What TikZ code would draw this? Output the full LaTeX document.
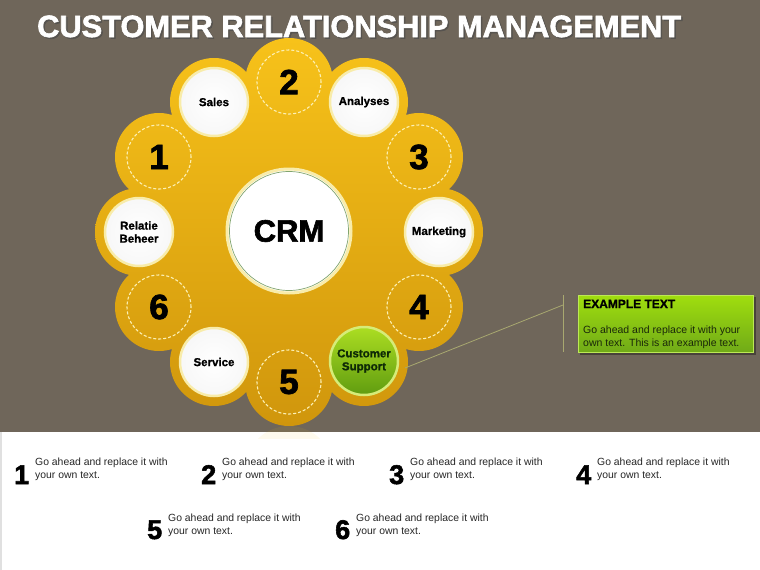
\documentclass[tikz,border=0pt]{standalone}
\usepackage{fontspec}
\setmainfont{Liberation Sans}
\newfontfamily\heavyfont[FakeBold=2]{Liberation Sans Bold}
\newfontfamily\semiheavy[FakeBold=1]{Liberation Sans Bold}
\definecolor{bg}{RGB}{111,102,90}
\definecolor{ytop}{RGB}{247,194,26}
\definecolor{ybot}{RGB}{208,150,12}
\definecolor{paley}{RGB}{248,236,170}
\definecolor{dashc}{RGB}{252,240,180}
\definecolor{crmgreen}{RGB}{130,165,110}
\definecolor{gtop}{RGB}{172,222,34}
\definecolor{gbot}{RGB}{96,156,16}
\definecolor{gborder}{RGB}{214,236,120}
\definecolor{gtext}{RGB}{14,42,6}
\definecolor{btop}{RGB}{160,222,14}
\definecolor{bbot}{RGB}{112,170,24}
\definecolor{linec}{RGB}{168,168,112}
\definecolor{bodyc}{RGB}{26,40,10}
\begin{document}
\begin{tikzpicture}[x=1pt,y=-1pt,
  numc/.style={circle,minimum size=64,inner sep=0,draw=dashc,line width=1.1,
    dash pattern=on 3pt off 2pt,font=\heavyfont\fontsize{35}{35}\selectfont},
  whitec/.style={circle,minimum size=68,inner sep=0,draw=paley,line width=2.5,
    inner color=white,outer color=black!3,align=center,
    font=\semiheavy\fontsize{11.5}{13}\selectfont},
  bignum/.style={anchor=base west,inner sep=0,font=\heavyfont\fontsize{27}{27}\selectfont},
  itemtxt/.style={anchor=north west,inner sep=0,align=left,
    font=\fontsize{10.4}{12.5}\selectfont,text=black!85},
  cline/.style={draw=linec,line width=0.8}]
\useasboundingbox (0,0) rectangle (760,570);
% backgrounds
\fill[bg] (0,0) rectangle (760,432);
\fill[white] (0,432) rectangle (760,570);
\fill[black!12] (0,432) rectangle (2,570);
% reflection
\begin{scope}
  \clip (0,424) rectangle (760,438);
  \fill[ytop,opacity=0.08] (289,470) circle (44);
\end{scope}
% title
\node[anchor=base west,inner sep=0,text=black!70,opacity=0.6,
  font=\heavyfont\fontsize{30.8}{30.8}\selectfont] (titleshadow) at (38.5,38.5)
  {CUSTOMER RELATIONSHIP MANAGEMENT};
\node[anchor=base west,inner sep=0,text=white,
  font=\heavyfont\fontsize{30.8}{30.8}\selectfont] (title) at (37,37)
  {CUSTOMER RELATIONSHIP MANAGEMENT};
% flower
\shade[top color=ytop,bottom color=ybot] (289,232) circle (152)
  (289,82) circle (44) (214,102) circle (44) (364,102) circle (44)
  (159,157) circle (44) (419,157) circle (44) (139,232) circle (44)
  (439,232) circle (44) (159,307) circle (44) (419,307) circle (44)
  (214,362) circle (44) (364,362) circle (44) (289,382) circle (44);
% center
\node[circle,minimum size=124,inner sep=0,fill=white,draw=paley,line width=3,
  font=\heavyfont\fontsize{31}{31}\selectfont] (crm) at (289,231) {CRM};
\draw[crmgreen,line width=0.7] (crm.center) circle (59.5);
% number circles
\node[numc] (n1) at (159,157) {1};
\node[numc] (n2) at (289,82) {2};
\node[numc] (n3) at (419,157) {3};
\node[numc] (n4) at (419,307) {4};
\node[numc] (n5) at (289,382) {5};
\node[numc] (n6) at (159,307) {6};
% white circles
\node[whitec] (sales) at (214,102) {Sales};
\node[whitec] (analyses) at (364,102) {Analyses};
\node[whitec] (marketing) at (439,232) {Marketing};
\node[whitec] (relatie) at (139,232) {Relatie\\Beheer};
\node[whitec] (service) at (214,362) {Service};
\node[whitec,top color=gtop,bottom color=gbot,draw=gborder,text=gtext] (cs) at (364,361) {Customer\\Support};
% callout
\fill[black,opacity=0.35] (580,297) rectangle (756,355);
\node[anchor=north west,minimum width=175,minimum height=57,inner sep=0,
  top color=btop,bottom color=bbot,draw=btop!70!white,line width=0.6] (box) at (578,295) {};
\node[anchor=base west,inner sep=0,font=\semiheavy\fontsize{12}{12}\selectfont] (boxtitle) at (583,308) {EXAMPLE TEXT};
\node[anchor=base west,inner sep=0,font=\fontsize{10.5}{11}\selectfont,text=bodyc] (boxl1) at (583,333) {Go ahead and replace it with your};
\node[anchor=base west,inner sep=0,font=\fontsize{10.5}{11}\selectfont,text=bodyc] (boxl2) at (583,346) {own text. This is an example text.};
\coordinate (csl) at (405,368);
\coordinate (bt) at (563,305);
\coordinate (vt) at (563,295);
\coordinate (vb) at (563,352);
\draw[cline] (csl) -- (bt);
\draw[cline] (vt) -- (vb);
% bottom items
\node[bignum] (b1) at (14,484) {1};
\node[itemtxt] (t1) at (35,458) {Go ahead and replace it with\\your own text.};
\node[bignum] (b2) at (201,484) {2};
\node[itemtxt] (t2) at (222,458) {Go ahead and replace it with\\your own text.};
\node[bignum] (b3) at (389,484) {3};
\node[itemtxt] (t3) at (410,458) {Go ahead and replace it with\\your own text.};
\node[bignum] (b4) at (576,484) {4};
\node[itemtxt] (t4) at (597,458) {Go ahead and replace it with\\your own text.};
\node[bignum] (b5) at (147,539) {5};
\node[itemtxt] (t5) at (168,514) {Go ahead and replace it with\\your own text.};
\node[bignum] (b6) at (335,539) {6};
\node[itemtxt] (t6) at (356,514) {Go ahead and replace it with\\your own text.};
\end{tikzpicture}
\end{document}
